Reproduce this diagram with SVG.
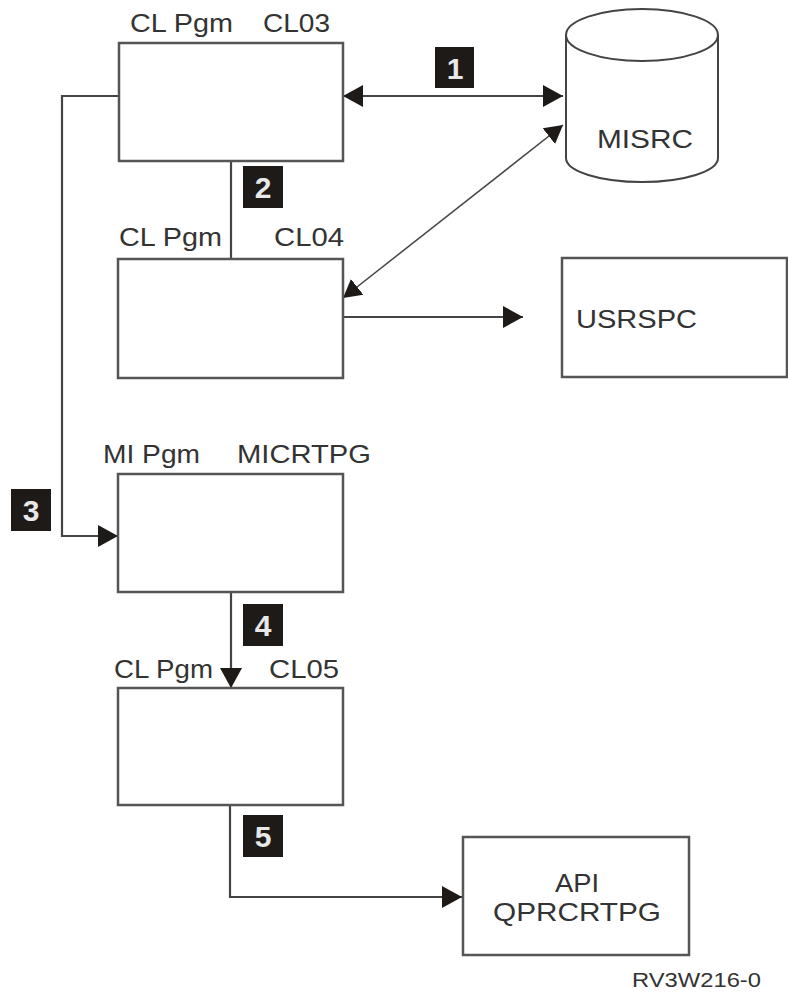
<svg xmlns="http://www.w3.org/2000/svg" width="788" height="992" viewBox="0 0 788 992">
<style>
.box{fill:#fff;stroke:#555;stroke-width:2.5}
.ln{fill:none;stroke:#444;stroke-width:2.2}
.thin{fill:none;stroke:#444;stroke-width:1.5}
.t{font-family:"Liberation Sans",Arial,sans-serif;font-size:26px;fill:#333}
.bd{fill:#1e1a18}
.bn{font-family:"Liberation Sans",Arial,sans-serif;font-size:30px;font-weight:bold;fill:#e8e8e8;text-anchor:middle}
</style>
<defs>
<marker id="ah" markerUnits="userSpaceOnUse" markerWidth="22" markerHeight="24" refX="20" refY="12" orient="auto-start-reverse">
<path d="M0,1 L20,12 L0,23 z" fill="#1e1a18"/>
</marker>
<marker id="ahs" markerUnits="userSpaceOnUse" markerWidth="20" markerHeight="22" refX="18" refY="11" orient="auto-start-reverse">
<path d="M0,1 L18,11 L0,21 z" fill="#1e1a18"/>
</marker>
</defs>
<rect width="788" height="992" fill="#fff"/>
<g id="connectors">
<line class="ln" x1="343" y1="96" x2="563" y2="96" marker-start="url(#ah)" marker-end="url(#ah)"/>
<line class="thin" x1="343" y1="298" x2="563" y2="125" marker-start="url(#ahs)" marker-end="url(#ahs)"/>
<line class="ln" x1="231" y1="161" x2="231" y2="259"/>
<line class="ln" x1="343" y1="317" x2="523" y2="317" marker-end="url(#ah)"/>
<polyline class="ln" points="119,96 62,96 62,536 118,536" marker-end="url(#ah)"/>
<line class="ln" x1="231" y1="592" x2="231" y2="688" marker-end="url(#ah)"/>
<polyline class="ln" points="230,805 230,897 462,897" marker-end="url(#ah)"/>
</g>
<g id="badge1"><rect class="bd" x="435" y="47" width="39" height="41"/><text class="bn" x="455" y="79">1</text></g>
<g id="badge2"><rect class="bd" x="243" y="166" width="40" height="42"/><text class="bn" x="263" y="198">2</text></g>
<g id="badge3"><rect class="bd" x="11" y="489" width="40" height="42"/><text class="bn" x="31" y="521">3</text></g>
<g id="badge4"><rect class="bd" x="243" y="604" width="40" height="42"/><text class="bn" x="263" y="636">4</text></g>
<g id="badge5"><rect class="bd" x="243" y="815" width="40" height="42"/><text class="bn" x="263" y="847">5</text></g>
<g id="CL03">
<rect class="box" x="119" y="43" width="224" height="118"/>
<text class="t" x="130" y="32" textLength="103" lengthAdjust="spacingAndGlyphs">CL  Pgm</text>
<text class="t" x="263" y="32" textLength="67" lengthAdjust="spacingAndGlyphs">CL03</text>
</g>
<g id="MISRC">
<path d="M566,35 L566,158 A76,24 0 0 0 718,158 L718,35" fill="#fff" stroke="#444" stroke-width="2"/>
<ellipse cx="642" cy="35" rx="76" ry="26" fill="#fff" stroke="#444" stroke-width="2"/>
<text class="t" x="597" y="148" textLength="96" lengthAdjust="spacingAndGlyphs">MISRC</text>
</g>
<g id="CL04">
<rect class="box" x="118" y="259" width="225" height="119"/>
<text class="t" x="119" y="246" textLength="103" lengthAdjust="spacingAndGlyphs">CL Pgm</text>
<text class="t" x="274" y="246" textLength="70" lengthAdjust="spacingAndGlyphs">CL04</text>
</g>
<g id="USRSPC">
<rect class="box" x="562" y="258" width="225" height="119"/>
<text class="t" x="576" y="328" textLength="121" lengthAdjust="spacingAndGlyphs">USRSPC</text>
</g>
<g id="MICRTPG">
<rect class="box" x="118" y="474" width="225" height="118"/>
<text class="t" x="103" y="463" textLength="97" lengthAdjust="spacingAndGlyphs">MI Pgm</text>
<text class="t" x="237" y="463" textLength="134" lengthAdjust="spacingAndGlyphs">MICRTPG</text>
</g>
<g id="CL05">
<rect class="box" x="118" y="688" width="225" height="117"/>
<text class="t" x="114" y="678" textLength="99" lengthAdjust="spacingAndGlyphs">CL Pgm</text>
<text class="t" x="269" y="678" textLength="70" lengthAdjust="spacingAndGlyphs">CL05</text>
</g>
<g id="API">
<rect class="box" x="463" y="837" width="226" height="118"/>
<text class="t" x="555" y="892" textLength="44" lengthAdjust="spacingAndGlyphs">API</text>
<text class="t" x="493" y="921" textLength="168" lengthAdjust="spacingAndGlyphs">QPRCRTPG</text>
</g>
<text class="t" x="632" y="987" style="font-size:21px" textLength="129" lengthAdjust="spacingAndGlyphs">RV3W216-0</text>
</svg>
